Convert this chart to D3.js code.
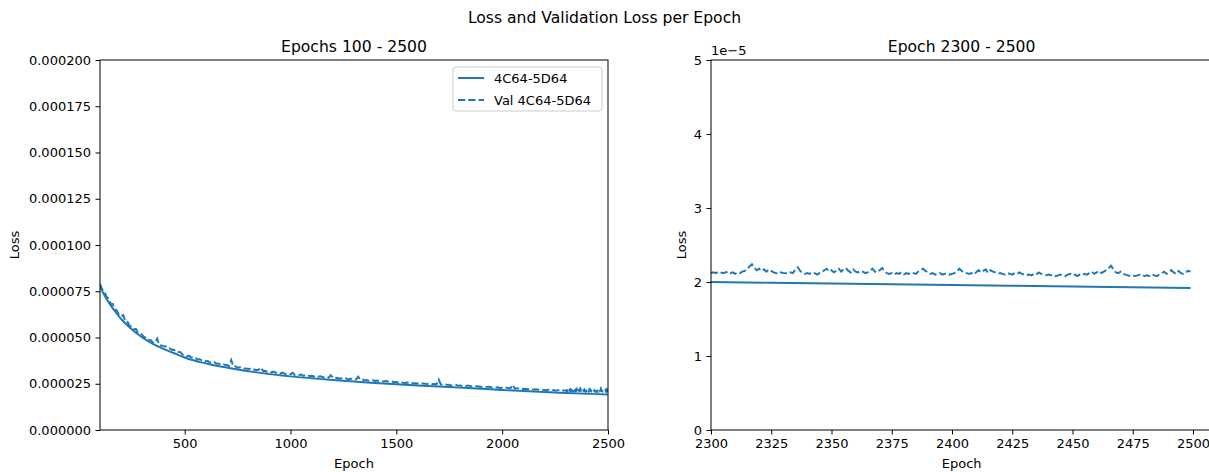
<!DOCTYPE html>
<html><head><meta charset="utf-8">
<script src="https://cdn.jsdelivr.net/npm/d3@7"></script>
<style>
body{margin:0;background:#fff}
svg{display:block;font-family:"DejaVu Sans",sans-serif}
</style>
</head><body>
<svg id="c" width="1209" height="472"></svg>
<script>
// ---------- texts ----------
const suptitle = "Loss and Validation Loss per Epoch";
const leftTitle = "Epochs 100 - 2500";
const rightTitle = "Epoch 2300 - 2500";
const xLabel = "Epoch";
const yLabel = "Loss";
const seriesNames = ["4C64-5D64", "Val 4C64-5D64"];
const offsetText = "1e\u22125";

// ---------- data (loss values in units of 1e-5) ----------
const LOSS_UNIT = 1e-5;
const trainEpochs = [100,125,150,175,200,250,300,350,400,450,500,550,600,650,700,750,800,850,900,950,1000,1100,1200,1300,1400,1500,1600,1700,1800,1900,2000,2100,2200,2300,2350,2400,2450,2499];
const trainLoss   = [7.75,7.2,6.75,6.35,6.0,5.45,5.0,4.65,4.38,4.15,3.92,3.74,3.6,3.47,3.37,3.27,3.18,3.1,3.02,2.96,2.9,2.8,2.7,2.62,2.54,2.47,2.41,2.35,2.29,2.23,2.16,2.11,2.05,2.0,1.98,1.96,1.94,1.92];

// validation loss, epochs 100..2290 every 10 epochs
const valCoarseEpochs = d3.range(100, 2300, 10);
const valCoarse = [
 7.90,7.61,7.51,7.20,7.11,6.82,6.81,6.53,6.45,6.22,
 6.14,6.21,5.86,5.84,5.63,5.61,5.45,5.46,5.24,5.24,
 5.13,4.99,5.02,4.87,4.86,4.72,4.73,4.94,4.57,4.57,
 4.52,4.53,4.40,4.41,4.33,4.34,4.22,4.22,4.21,4.08,
 4.07,3.98,4.02,3.93,3.92,3.93,3.81,3.83,3.78,3.80,
 3.72,3.73,3.64,3.66,3.68,3.58,3.60,3.53,3.57,3.52,
 3.51,3.45,3.78,3.43,3.45,3.36,3.39,3.40,3.32,3.33,
 3.30,3.31,3.24,3.27,3.23,3.26,3.38,3.19,3.20,3.14,
 3.15,3.11,3.16,3.09,3.11,3.05,3.10,3.06,3.02,3.05,
 3.02,3.09,2.98,3.01,2.97,3.00,2.93,2.96,2.98,2.91,
 2.93,2.89,2.93,2.88,2.90,2.87,2.84,2.88,2.83,2.96,
 2.82,2.79,2.82,2.77,2.80,2.77,2.80,2.74,2.76,2.77,
 2.72,2.74,2.88,2.71,2.73,2.68,2.70,2.66,2.68,2.69,
 2.65,2.67,2.62,2.65,2.61,2.66,2.61,2.61,2.62,2.58,
 2.60,2.56,2.60,2.56,2.54,2.57,2.55,2.58,2.52,2.53,
 2.51,2.54,2.51,2.52,2.48,2.50,2.52,2.47,2.49,2.47,
 2.73,2.46,2.44,2.47,2.44,2.45,2.40,2.43,2.44,2.40,
 2.41,2.38,2.41,2.38,2.41,2.36,2.37,2.34,2.37,2.35,
 2.33,2.35,2.33,2.33,2.34,2.30,2.31,2.29,2.31,2.27,
 2.28,2.26,2.29,2.26,2.27,2.44,2.23,2.25,2.26,2.23,
 2.22,2.23,2.20,2.23,2.21,2.18,2.20,2.18,2.21,2.18,
 2.17,2.15,2.18,2.15,2.16,2.13,2.14,2.17,2.12,2.14
];
// validation loss, epochs 2300..2499 every epoch
const valFineEpochs = d3.range(2300, 2500, 1);
const valFine = [
 2.12,2.13,2.12,2.14,2.13,2.12,2.13,2.14,2.12,2.13,
 2.11,2.13,2.12,2.14,2.15,2.18,2.21,2.24,2.19,2.16,
 2.18,2.15,2.17,2.14,2.17,2.15,2.13,2.12,2.11,2.13,
 2.12,2.12,2.11,2.13,2.12,2.17,2.2,2.15,2.12,2.11,
 2.12,2.11,2.13,2.12,2.1,2.12,2.13,2.16,2.18,2.14,
 2.16,2.13,2.15,2.18,2.14,2.17,2.19,2.15,2.13,2.17,
 2.14,2.13,2.15,2.14,2.12,2.13,2.15,2.18,2.14,2.13,
 2.16,2.19,2.14,2.12,2.11,2.12,2.1,2.12,2.11,2.13,
 2.1,2.12,2.11,2.13,2.12,2.11,2.14,2.16,2.18,2.15,
 2.13,2.11,2.12,2.1,2.11,2.12,2.1,2.11,2.12,2.1,
 2.11,2.12,2.14,2.18,2.15,2.13,2.12,2.11,2.12,2.1,
 2.13,2.16,2.13,2.15,2.17,2.12,2.16,2.14,2.13,2.11,
 2.12,2.11,2.1,2.12,2.11,2.1,2.12,2.11,2.13,2.11,
 2.1,2.09,2.1,2.09,2.11,2.1,2.13,2.11,2.1,2.09,
 2.1,2.09,2.1,2.08,2.09,2.1,2.09,2.08,2.1,2.11,
 2.09,2.1,2.08,2.1,2.09,2.11,2.1,2.12,2.14,2.11,
 2.13,2.15,2.12,2.14,2.16,2.19,2.22,2.17,2.13,2.12,
 2.14,2.11,2.1,2.09,2.08,2.09,2.08,2.09,2.1,2.09,
 2.08,2.09,2.08,2.1,2.09,2.08,2.1,2.12,2.14,2.11,
 2.13,2.16,2.13,2.11,2.15,2.12,2.11,2.13,2.15,2.14
];

// ---------- ticks ----------
const leftXTicks = [500,1000,1500,2000,2500];
const leftYTicks = [0,0.000025,0.00005,0.000075,0.0001,0.000125,0.00015,0.000175,0.0002];
const rightXTicks = [2300,2325,2350,2375,2400,2425,2450,2475,2500];
const rightYTicks = [0,1,2,3,4,5];

// ---------- build ----------
const trainData = trainEpochs.map((e,i)=>({e, v: trainLoss[i]*LOSS_UNIT}));
const valData = valCoarseEpochs.map((e,i)=>({e, v: valCoarse[i]*LOSS_UNIT}))
  .concat(valFineEpochs.map((e,i)=>({e, v: valFine[i]*LOSS_UNIT})));

const COLOR = "#1f77b4";
const svg = d3.select("#c");
const FS = 13;

svg.append("text").attr("x", 604.5).attr("y", 23).attr("text-anchor","middle")
  .attr("font-size", 15.6).text(suptitle);

function panel(opts){
  const {x, y, left, top, bottom, rightEdge, title, xTicks, yTicks, yFmt, clipId, trainPts, valPts, yLabelX} = opts;
  const g = svg.append("g");
  g.append("clipPath").attr("id", clipId).append("rect")
    .attr("x", left).attr("y", top).attr("width", rightEdge-left).attr("height", bottom-top);

  const plot = g.append("g").attr("clip-path", `url(#${clipId})`);
  plot.append("path").datum(trainPts).attr("fill","none").attr("stroke",COLOR)
    .attr("stroke-width",1.95).attr("stroke-linejoin","round")
    .attr("d", d3.line().x(d=>x(d.e)).y(d=>y(d.v)).curve(d3.curveMonotoneX));
  plot.append("path").datum(valPts).attr("fill","none").attr("stroke",COLOR)
    .attr("stroke-width",1.95).attr("stroke-dasharray","7.2,3.1")
    .attr("d", d3.line().x(d=>x(d.e)).y(d=>y(d.v)));

  // spines
  g.append("rect").attr("x", left).attr("y", top).attr("width", rightEdge-left)
    .attr("height", bottom-top).attr("fill","none").attr("stroke","#000").attr("stroke-width",1);

  const ax = g.append("g").attr("transform", `translate(0,${bottom})`)
    .call(d3.axisBottom(x).tickValues(xTicks).tickSize(4.5).tickPadding(4.5).tickFormat(d3.format("d")));
  const ay = g.append("g").attr("transform", `translate(${left},0)`)
    .call(d3.axisLeft(y).tickValues(yTicks).tickSize(4.5).tickPadding(4.5).tickFormat(yFmt));
  [ax, ay].forEach(a=>{
    a.select(".domain").remove();
    a.selectAll("text").attr("font-size", FS).attr("font-family","DejaVu Sans").attr("fill","#000");
    a.selectAll("line").attr("stroke","#000").attr("stroke-width",1);
  });

  const cx = (left + rightEdge)/2;
  g.append("text").attr("x", cx).attr("y", 52).attr("text-anchor","middle")
    .attr("font-size", 15.6).text(title);
  g.append("text").attr("x", cx).attr("y", 468).attr("text-anchor","middle")
    .attr("font-size", FS).text(xLabel);
  g.append("text").attr("transform", `translate(${yLabelX},${(top+bottom)/2}) rotate(-90)`)
    .attr("text-anchor","middle").attr("font-size", FS).text(yLabel);
  return g;
}

// left panel
const xL = d3.scaleLinear().domain([100, 2500]).range([100, 608]);
const yL = d3.scaleLinear().domain([0, 0.0002]).range([430, 60]);
const gL = panel({x:xL, y:yL, left:100, top:60, bottom:430, rightEdge:xL(2500),
  title:leftTitle, xTicks:leftXTicks, yTicks:leftYTicks, yFmt:d3.format(".6f"),
  clipId:"clipL", trainPts:trainData, valPts:valData, yLabelX:19});

// legend
const lg = gL.append("g");
lg.append("rect").attr("x",453).attr("y",67).attr("width",149).attr("height",44).attr("rx",3)
  .attr("fill","#fff").attr("fill-opacity",0.8).attr("stroke","#cccccc").attr("stroke-width",1);
seriesNames.forEach((name,i)=>{
  const yy = 78 + i*22;
  lg.append("line").attr("x1",458).attr("x2",484).attr("y1",yy).attr("y2",yy)
    .attr("stroke",COLOR).attr("stroke-width",1.95)
    .attr("stroke-dasharray", i===1 ? "7.2,3.1" : null);
  lg.append("text").attr("x",494).attr("y",yy+4.6).attr("font-size",FS).text(name);
});

// right panel
const xR = d3.scaleLinear().domain([2300, 2500]).range([711, 1193]);
const yR = d3.scaleLinear().domain([0, 5*LOSS_UNIT]).range([430, 60]);
const gR = panel({x:xR, y:yR, left:711, top:60, bottom:430, rightEdge:xR(2508),
  title:rightTitle, xTicks:rightXTicks, yTicks:rightYTicks.map(t=>t*LOSS_UNIT),
  yFmt:d=>d3.format("d")(Math.round(d/LOSS_UNIT)), clipId:"clipR",
  trainPts:trainData.filter(d=>d.e>=2300), valPts:valData.filter(d=>d.e>=2300), yLabelX:686});
gR.append("text").attr("x",711).attr("y",55).attr("font-size",FS).text(offsetText);
</script>
</body></html>
